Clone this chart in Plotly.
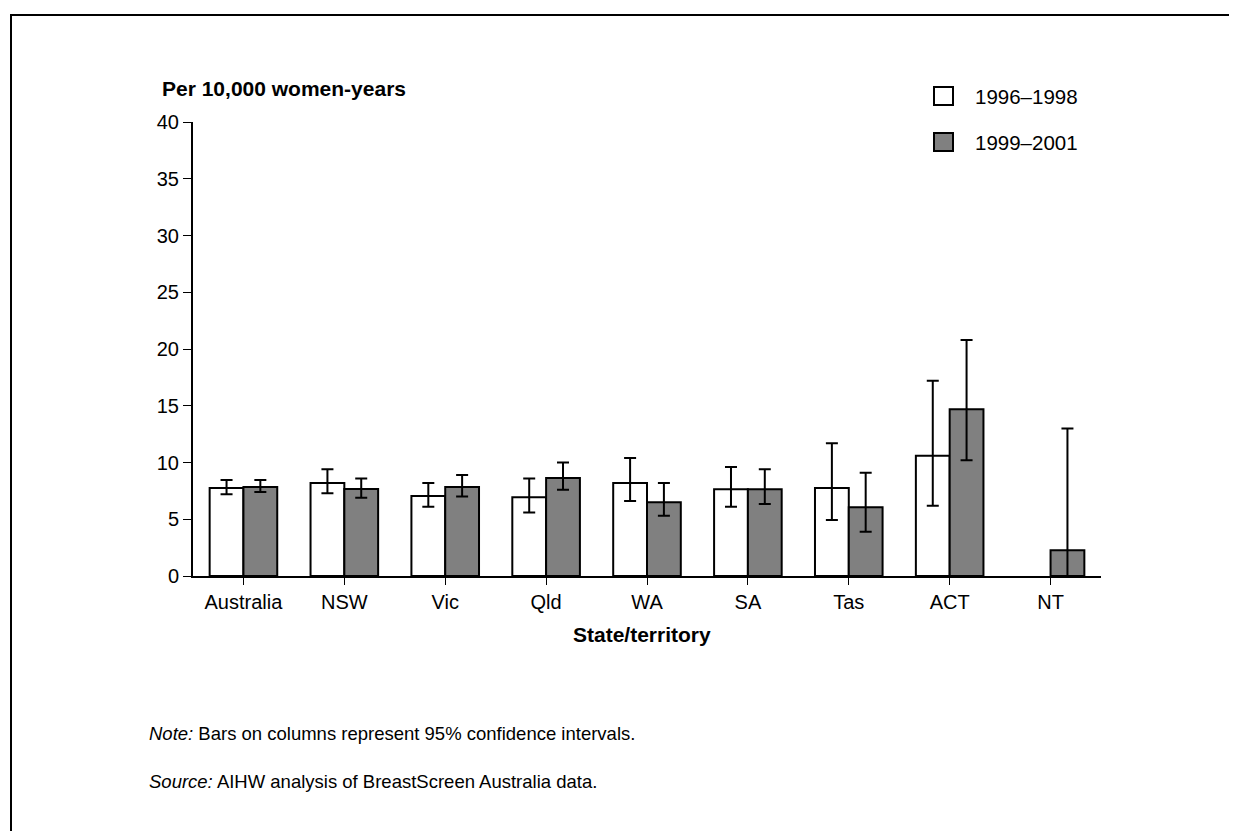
import plotly.graph_objects as go

# Data
states = ["Australia", "NSW", "Vic", "Qld", "WA", "SA", "Tas", "ACT", "NT"]

rate_9698 = [7.75, 8.2, 7.05, 6.93, 8.2, 7.64, 7.75, 10.6, None]
low_9698 = [7.2, 7.3, 6.1, 5.6, 6.6, 6.1, 4.93, 6.2, None]
high_9698 = [8.45, 9.4, 8.2, 8.6, 10.4, 9.6, 11.7, 17.2, None]

rate_9901 = [7.84, 7.67, 7.84, 8.63, 6.5, 7.64, 6.05, 14.7, 2.26]
low_9901 = [7.4, 6.9, 7.0, 7.6, 5.3, 6.34, 3.9, 10.2, 0.0]
high_9901 = [8.45, 8.6, 8.9, 10.0, 8.2, 9.4, 9.1, 20.8, 13.0]

y_ticks = [0, 5, 10, 15, 20, 25, 30, 35, 40]


def err(v, lo, hi):
    plus = [None if a is None else h - a for a, h in zip(v, hi)]
    minus = [None if a is None else a - l for a, l in zip(v, lo)]
    return plus, minus


p1, m1 = err(rate_9698, low_9698, high_9698)
p2, m2 = err(rate_9901, low_9901, high_9901)

# page has an 8px body margin, so the figure is drawn a bit smaller
OFF = 8
W, H = 1229, 823
L, T = 193 - OFF, 122 - OFF
R = W - (1101 - OFF)
B = H - (576 - OFF)
pw, ph = W - L - R, H - T - B


def px(x):
    return (x - OFF - L) / pw


def py(y):
    return (H - B - (y - OFF)) / ph


font = "Liberation Sans, Arial, sans-serif"

fig = go.Figure()
fig.add_trace(go.Bar(
    x=states, y=rate_9698, name="1996–1998",
    marker=dict(color="white", line=dict(color="black", width=2)),
    error_y=dict(type="data", symmetric=False, array=p1, arrayminus=m1,
                 color="black", thickness=2, width=6),
))
fig.add_trace(go.Bar(
    x=states, y=rate_9901, name="1999–2001",
    marker=dict(color="#808080", line=dict(color="black", width=2)),
    error_y=dict(type="data", symmetric=False, array=p2, arrayminus=m2,
                 color="black", thickness=2, width=6),
))

fig.update_layout(
    width=W, height=H,
    margin=dict(l=L, r=R, t=T, b=B),
    plot_bgcolor="white", paper_bgcolor="white",
    barmode="group", bargap=0.33, bargroupgap=0,
    showlegend=False,
    font=dict(family=font, size=20, color="black"),
)
fig.update_xaxes(
    range=[-0.5, 8.5], showline=True, linecolor="black", linewidth=2,
    ticks="outside", ticklen=7, tickwidth=1, tickcolor="black",
    showgrid=False, tickfont=dict(size=20),
)
fig.update_yaxes(
    range=[0, 40], tickvals=y_ticks, showline=True, linecolor="black",
    linewidth=2, ticks="outside", ticklen=8, tickwidth=1, tickcolor="black",
    showgrid=False, zeroline=False, tickfont=dict(size=20),
)

# axis titles and notes
ann = [
    dict(x=px(160), y=py(88), text="<b>Per 10,000 women-years</b>",
         xanchor="left", size=21),
    dict(x=px(642), y=py(634), text="<b>State/territory</b>",
         xanchor="center", size=21),
    dict(x=px(147), y=py(733),
         text="<i>Note:</i> Bars on columns represent 95% confidence intervals.",
         xanchor="left", size=18.5),
    dict(x=px(147), y=py(781),
         text="<i>Source:</i> AIHW analysis of BreastScreen Australia data.",
         xanchor="left", size=18.5),
    dict(x=px(973), y=py(96), text="1996–1998", xanchor="left", size=20.5),
    dict(x=px(973), y=py(142), text="1999–2001", xanchor="left", size=20.5),
]
for a in ann:
    fig.add_annotation(x=a["x"], y=a["y"], xref="paper", yref="paper",
                       text=a["text"], showarrow=False, xanchor=a["xanchor"],
                       yanchor="middle", font=dict(size=a["size"], family=font))

# legend boxes
fig.add_shape(type="rect", xref="paper", yref="paper",
              x0=px(934), x1=px(953), y0=py(87), y1=py(105),
              fillcolor="white", line=dict(color="black", width=2))
fig.add_shape(type="rect", xref="paper", yref="paper",
              x0=px(934), x1=px(953), y0=py(133), y1=py(151),
              fillcolor="#808080", line=dict(color="black", width=2))

# page frame (top and left edges)
fig.add_shape(type="line", xref="paper", yref="paper",
              x0=px(11), x1=px(W + OFF + 5), y0=py(15), y1=py(15),
              line=dict(color="black", width=2))
fig.add_shape(type="line", xref="paper", yref="paper",
              x0=px(11), x1=px(11), y0=py(14), y1=py(H + OFF + 5),
              line=dict(color="black", width=2))

fig.write_html("out.html")
